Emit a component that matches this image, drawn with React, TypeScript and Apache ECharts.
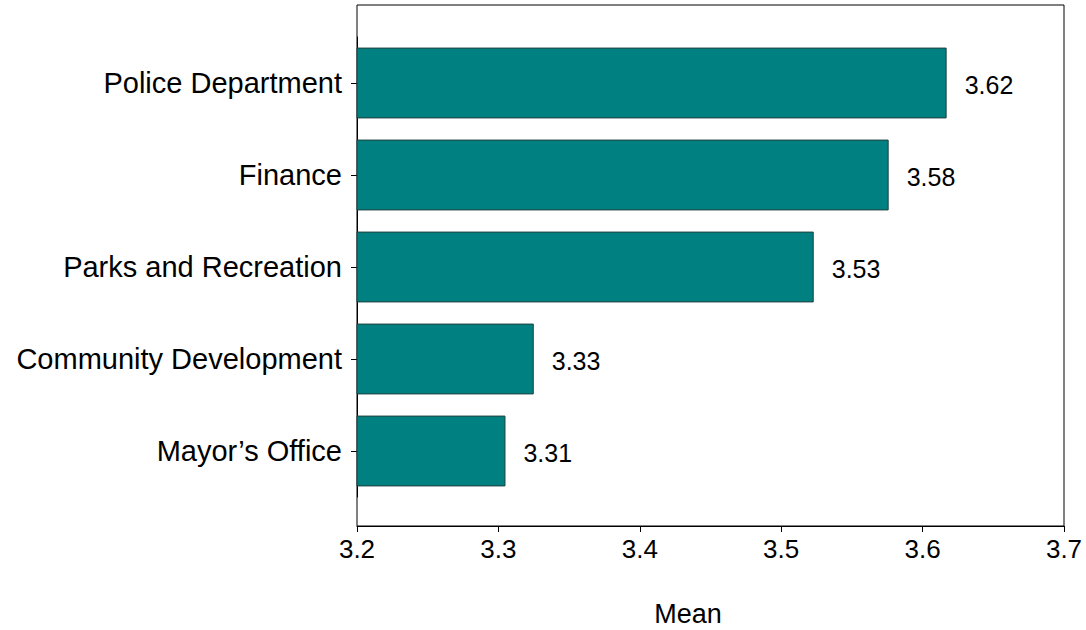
import React, { useEffect, useRef } from "react";
import * as echarts from "echarts";

const categories = [
  "Police Department",
  "Finance",
  "Parks and Recreation",
  "Community Development",
  "Mayor\u2019s Office",
];
const means = [3.617, 3.576, 3.523, 3.325, 3.305];
const meanLabels = ["3.62", "3.58", "3.53", "3.33", "3.31"];
const xMin = 3.2;
const xMax = 3.7;
const xStep = 0.1;
const axisTitle = "Mean";

const FONT = "'Liberation Sans', Arial, sans-serif";

export default function App() {
  const ref = useRef<HTMLDivElement>(null);
  useEffect(() => {
    if (!ref.current) return;
    const chart = echarts.init(ref.current, null, { renderer: "svg" });
    chart.setOption({
      animation: false,
      backgroundColor: "#ffffff",
      textStyle: { fontFamily: FONT },
      grid: [
        {
          left: 357,
          top: 5,
          width: 707,
          height: 521,
          show: true,
          borderColor: "#000000",
          borderWidth: 1,
          backgroundColor: "transparent",
        },
        { left: 357, top: 37, width: 707, height: 460 },
      ],
      xAxis: [
        {
          type: "value",
          gridIndex: 0,
          min: xMin,
          max: xMax,
          interval: xStep,
          axisLine: { show: true, lineStyle: { color: "#000", width: 1 } },
          axisTick: { show: true, inside: false, length: 6, lineStyle: { color: "#000" } },
          splitLine: { show: false },
          axisLabel: {
            color: "#000",
            fontSize: 26,
            fontFamily: FONT,
            margin: 10,
            formatter: (v: number) => String(Math.round(v * 10) / 10),
          },
        },
        {
          type: "value",
          gridIndex: 1,
          min: xMin,
          max: xMax,
          show: false,
        },
      ],
      yAxis: [
        { type: "value", gridIndex: 0, show: false },
        {
          type: "category",
          gridIndex: 1,
          data: categories,
          inverse: true,
          axisLine: { show: true, lineStyle: { color: "#000", width: 1 } },
          axisTick: {
            show: true,
            alignWithLabel: true,
            inside: false,
            length: 6,
            lineStyle: { color: "#000" },
          },
          splitLine: { show: false },
          axisLabel: {
            color: "#000",
            fontSize: 29,
            fontFamily: FONT,
            margin: 15,
          },
        },
      ],
      series: [
        {
          type: "bar",
          xAxisIndex: 1,
          yAxisIndex: 1,
          data: means,
          barCategoryGap: "23%",
          itemStyle: {
            color: "#008080",
            borderColor: "#1f3f3f",
            borderWidth: 1,
          },
          label: {
            show: true,
            position: "right",
            distance: 18,
            color: "#000",
            fontSize: 25,
            fontFamily: FONT,
            offset: [0, 2],
            formatter: (p: any) => meanLabels[p.dataIndex],
          },
        },
      ],
      graphic: [
        {
          type: "text",
          x: 688,
          y: 614,
          style: {
            text: axisTitle,
            fontSize: 27,
            fontFamily: FONT,
            fill: "#000",
            textAlign: "center",
            textVerticalAlign: "middle",
          },
        },
      ],
    });
    return () => chart.dispose();
  }, []);
  return (
    <div
      ref={ref}
      style={{ position: "absolute", left: 0, top: 0, width: 1086, height: 630 }}
    />
  );
}
